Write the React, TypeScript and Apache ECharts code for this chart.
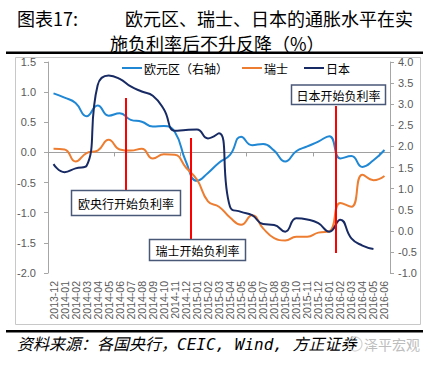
import React, { useEffect, useRef } from "react";
import * as echarts from "echarts";

const categories = [
  "2013-12", "2014-01", "2014-02", "2014-03", "2014-04", "2014-05", "2014-06", "2014-07",
  "2014-08", "2014-09", "2014-10", "2014-11", "2014-12", "2015-01", "2015-02", "2015-03",
  "2015-04", "2015-05", "2015-06", "2015-07", "2015-08", "2015-09", "2015-10", "2015-11",
  "2015-12", "2016-01", "2016-02", "2016-03", "2016-04", "2016-05", "2016-06",
];

// 欧元区 (plotted against the left scale as drawn)
const euroValues = [
  0.98, 0.91, 0.82, 0.6, 0.78, 0.61, 0.65, 0.54, 0.51, 0.43, 0.44, 0.34, -0.15, -0.47, -0.34,
  -0.17, -0.04, 0.26, 0.12, 0.14, 0.03, -0.15, 0.02, 0.1, 0.18, 0.27, -0.1, -0.06, -0.24, -0.13, 0.04,
];
// 瑞士 (left axis)
const swissValues = [
  0.06, 0.05, -0.15, -0.01, 0.03, 0.21, 0.05, 0.03, 0.06, -0.1, -0.03, -0.04, -0.25, -0.45, -0.81,
  -0.9, -1.08, -1.2, -1.04, -1.26, -1.42, -1.46, -1.4, -1.4, -1.33, -1.31, -0.84, -0.9, -0.37, -0.46, -0.39,
];
// 日本 (right axis)
const japanValues: (number | null)[] = [
  1.58, 1.39, 1.48, 1.54, 3.45, 3.68, 3.6, 3.42, 3.3, 3.2, 2.88, 2.37, 2.39, 2.4, 2.19,
  2.31, 0.57, 0.45, 0.37, 0.16, 0.14, -0.02, 0.3, 0.27, 0.18, -0.02, 0.26, -0.18, -0.35, -0.43, null,
];

const leftTicks = { min: -2, max: 1.5, interval: 0.5 };
const rightTicks = { min: -1, max: 4, interval: 0.5 };

const CJK = '"Noto Sans CJK SC", "Noto Sans", sans-serif';
const NUM = '"Liberation Sans", Arial, sans-serif';
const SOURCE_FONT = '"DejaVu Sans Mono", "Noto Sans CJK SC", monospace';

function txt(text: string, x: number, y: number, opts: any = {}) {
  const align = opts.align || "left";
  return {
    type: "text",
    z: 100,
    style: {
      text,
      x,
      y,
      fill: opts.fill || "#000",
      fontSize: opts.fontSize || 12,
      fontFamily: opts.fontFamily || CJK,
      fontWeight: opts.fontWeight || "normal",
      fontStyle: opts.fontStyle || "normal",
      align,
      textAlign: align,
      verticalAlign: "middle",
      textVerticalAlign: "middle",
    },
  };
}

function redLine(x: number, y1: number, y2: number) {
  return {
    type: "line",
    z: 100,
    shape: { x1: x, y1, x2: x, y2 },
    style: { stroke: "#ff0000", lineWidth: 2 },
  };
}

function box(x: number, y: number, w: number, h: number, text: string) {
  return [
    {
      type: "rect",
      z: 100,
      shape: { x, y, width: w, height: h },
      style: { fill: "#fff", stroke: "#4a5878", lineWidth: 1.5 },
    },
    txt(text, x + w / 2, y + h / 2 + 0.5, { align: "center", fontSize: 12 }),
  ];
}

export default function App() {
  const ref = useRef<HTMLDivElement>(null);

  useEffect(() => {
    if (!ref.current) return;
    const chart = echarts.init(ref.current, undefined, { renderer: "svg" });

    const legendCommon = {
      top: 62,
      padding: 0,
      icon: "rect",
      itemWidth: 20,
      itemHeight: 2,
      itemGap: 0,
      textStyle: { fontSize: 12, color: "#000", fontFamily: CJK, padding: [0, 0, 0, -3] },
    };

    chart.setOption({
      animation: false,
      backgroundColor: "#fff",
      legend: [
        { ...legendCommon, left: 122, data: ["欧元区（右轴）"] },
        { ...legendCommon, left: 242, data: ["瑞士"] },
        { ...legendCommon, left: 304, data: ["日本"] },
      ],
      grid: { left: 48, right: 42, top: 62, bottom: 92, containLabel: false },
      xAxis: [
        {
          type: "category",
          data: categories,
          position: "bottom",
          boundaryGap: true,
          axisLine: { show: false, onZero: false },
          axisTick: { show: false },
          axisLabel: {
            interval: 0,
            rotate: 90,
            margin: 8,
            fontSize: 10.5,
            color: "#595959",
            fontFamily: NUM,
          },
        },
        {
          type: "category",
          data: categories,
          position: "top",
          boundaryGap: true,
          axisLine: { show: true, onZero: true, onZeroAxisIndex: 0, lineStyle: { color: "#a0a0a0", width: 1 } },
          axisTick: { show: true, inside: true, length: 4, lineStyle: { color: "#a0a0a0" } },
          axisLabel: { show: false },
        },
      ],
      yAxis: [
        {
          type: "value",
          position: "left",
          ...leftTicks,
          splitLine: { show: false },
          axisLine: { show: true, lineStyle: { color: "#a6a6a6" } },
          axisTick: { show: true, length: 4, lineStyle: { color: "#a6a6a6" } },
          axisLabel: {
            formatter: (v: number) => v.toFixed(1),
            margin: 12,
            fontSize: 11,
            color: "#595959",
            fontFamily: NUM,
          },
        },
        {
          type: "value",
          position: "right",
          ...rightTicks,
          splitLine: { show: false },
          axisLine: { show: true, lineStyle: { color: "#a6a6a6" } },
          axisTick: { show: true, length: 4, lineStyle: { color: "#a6a6a6" } },
          axisLabel: {
            formatter: (v: number) => v.toFixed(1),
            margin: 8,
            fontSize: 11,
            color: "#595959",
            fontFamily: NUM,
          },
        },
      ],
      series: [
        {
          name: "欧元区（右轴）",
          type: "line",
          data: euroValues,
          xAxisIndex: 0,
          yAxisIndex: 0,
          smooth: true,
          symbol: "none",
          lineStyle: { color: "#1f87d4", width: 2 },
          itemStyle: { color: "#1f87d4" },
        },
        {
          name: "瑞士",
          type: "line",
          data: swissValues,
          xAxisIndex: 0,
          yAxisIndex: 0,
          smooth: true,
          symbol: "none",
          lineStyle: { color: "#ed7d31", width: 2 },
          itemStyle: { color: "#ed7d31" },
        },
        {
          name: "日本",
          type: "line",
          data: japanValues,
          xAxisIndex: 0,
          yAxisIndex: 1,
          smooth: true,
          symbol: "none",
          lineStyle: { color: "#172a63", width: 2 },
          itemStyle: { color: "#172a63" },
        },
      ],
      graphic: [
        txt("图表17:", 17, 18, { fontSize: 18, fontWeight: "normal" }),
        txt("欧元区、瑞士、日本的通胀水平在实", 125, 18, { fontSize: 18, fontWeight: "normal" }),
        txt("施负利率后不升反降（%）", 110, 43, { fontSize: 18, fontWeight: "normal" }),
        { type: "rect", z: 100, shape: { x: 6, y: 51.5, width: 417, height: 2.5 }, style: { fill: "#000" } },
        {
          type: "rect",
          z: 1,
          shape: { x: 15.5, y: 57.5, width: 405, height: 267 },
          style: { fill: "none", stroke: "#c8c8c8", lineWidth: 1 },
        },
        { type: "rect", z: 100, shape: { x: 6, y: 330, width: 417, height: 2.5 }, style: { fill: "#000" } },
        txt("资料来源：各国央行，CEIC, Wind, 方正证券", 17, 344, {
          fontSize: 16,
          fontStyle: "italic",
          fontWeight: "normal",
          fontFamily: SOURCE_FONT,
        }),
        {
          type: "circle",
          z: 100,
          shape: { cx: 355, cy: 344, r: 7 },
          style: { fill: "none", stroke: "#d4d4d4", lineWidth: 1.2 },
        },
        txt("泽平宏观", 364, 344, { fontSize: 14, fill: "#bdbdbd" }),
        redLine(126, 98, 191),
        redLine(191, 138, 240),
        redLine(336, 106, 253),
        ...box(71.5, 190.5, 109, 25, "欧央行开始负利率"),
        ...box(149.5, 239.5, 96, 21, "瑞士开始负利率"),
        ...box(291.5, 85, 94, 19.5, "日本开始负利率"),
      ],
    });

    return () => chart.dispose();
  }, []);

  return (
    <div style={{ position: "fixed", left: 0, top: 0, width: 432, height: 365, background: "#fff" }}>
      <div ref={ref} style={{ width: 432, height: 365 }} />
    </div>
  );
}
